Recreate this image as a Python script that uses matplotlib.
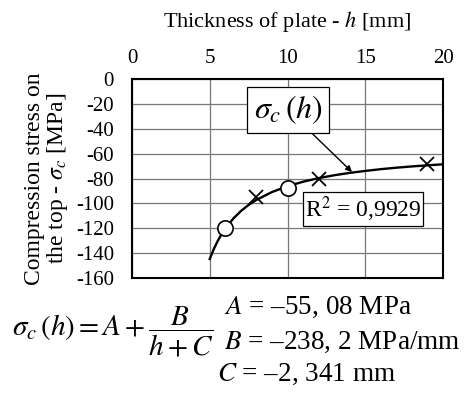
import matplotlib
matplotlib.use('Agg')
import matplotlib.pyplot as plt

plt.rcParams['font.family'] = ['Liberation Serif', 'DejaVu Serif']
plt.rcParams['mathtext.fontset'] = 'stix'
plt.rcParams['axes.unicode_minus'] = False

# fitted curve sigma_c(h)
curve_h = [5, 5.25, 5.5, 5.75, 6, 6.5, 7, 7.5, 8, 9, 10, 11, 12, 13, 14, 15, 16, 17, 18, 19, 20]
curve_s = [-144.7, -137.0, -130.5, -125.0, -120.2, -112.4, -106.2, -101.2, -97.2, -90.9,
           -86.2, -82.6, -79.7, -77.4, -75.5, -73.9, -72.5, -71.3, -70.3, -69.4, -68.6]

# measured points
cross_h = [8, 12, 19]
cross_s = [-95, -80, -68]
circle_h = [6, 10]
circle_s = [-120, -88]

xticks = [0, 5, 10, 15, 20]
yticks = [0, -20, -40, -60, -80, -100, -120, -140, -160]

fig = plt.figure(figsize=(4.68, 4.08), dpi=100)
ax = fig.add_axes([132/468, 1 - 278/408, 311/468, 199/408])

ax.plot(curve_h, curve_s, color='black', lw=1.7, zorder=3)
ax.plot(cross_h, cross_s, 'x', color='black', ms=10, mew=1.3, zorder=4)
ax.plot(circle_h, circle_s, 'o', mfc='white', mec='black', ms=11, mew=1.2, zorder=4)

ax.set_xlim(0, 20)
ax.set_ylim(-160, 0)
ax.set_xticks(xticks)
ax.set_yticks(yticks)
ax.xaxis.tick_top()
ax.xaxis.set_label_position('top')
ax.tick_params(length=0, labelsize=15)
ax.tick_params(axis='y', pad=13)
ax.tick_params(axis='x', pad=8)
ax.grid(True, color='#777777', lw=0.9)
ax.set_axisbelow(True)
for s in ax.spines.values():
    s.set_linewidth(1.5)

ax.set_xlabel('Thickness of plate - $h$ [mm]', fontsize=16, labelpad=16)
ax.set_ylabel('Compression stress on\nthe top - $\\sigma_c$ [MPa]', fontsize=17, labelpad=4,
              linespacing=1.0)

ax.annotate(r'$\sigma_c\,(h)$', xy=(14.15, -74.8), xytext=(10.03, -25),
            ha='center', va='center', fontsize=23,
            bbox=dict(boxstyle='square,pad=0.2', fc='white', ec='black', lw=0.9),
            arrowprops=dict(arrowstyle='-|>', color='black', lw=1.0,
                            shrinkA=0, shrinkB=0, mutation_scale=9), zorder=5)

ax.text(14.86, -104.5, 'R$^2$ = 0,9929', ha='center', va='center', fontsize=17,
        bbox=dict(boxstyle='square,pad=0.08', fc='white', ec='black', lw=0.9), zorder=5)

fig.text(12/468, 1 - 332/408, r'$\sigma_c\,(h) = A + \dfrac{B}{h + C}$',
         ha='left', va='center', fontsize=21)
fig.text(224/468, 1 - 307/408, '$A$ = \u201355, 08 MPa', ha='left', va='center', fontsize=19.5)
fig.text(224/468, 1 - 342/408, '$B$ = \u2013238, 2 MPa/mm', ha='left', va='center', fontsize=19.5)
fig.text(217/468, 1 - 374/408, '$C$ = \u20132, 341 mm', ha='left', va='center', fontsize=19.5)

fig.savefig('out.png', dpi=100, facecolor='white')
